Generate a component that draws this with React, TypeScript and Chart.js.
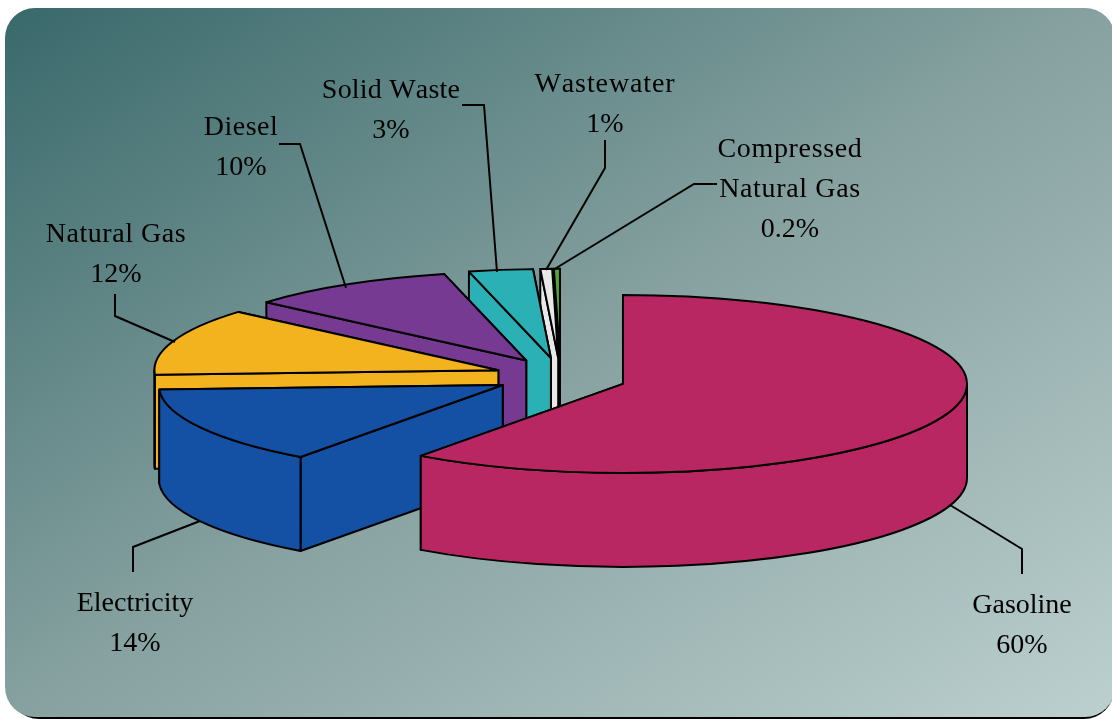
import React, { useEffect, useRef } from "react";
import { Chart, registerables } from "chart.js";

Chart.register(...registerables);

const categories = ["Gasoline", "Electricity", "Natural Gas", "Diesel", "Solid Waste", "Wastewater", "Compressed Natural Gas"];
const shares = [60, 14.17, 12.2, 9.8, 3, 0.55, 0.28];
const sliceColors = ["#B92763", "#1450A3", "#F2B31E", "#763A92", "#2BB0B5", "#E8E8E8", "#4FA83A"];

const labelLines = [
  ["Gasoline", "60%"],
  ["Electricity", "14%"],
  ["Natural Gas", "12%"],
  ["Diesel", "10%"],
  ["Solid Waste", "3%"],
  ["Wastewater", "1%"],
  ["Compressed", "Natural Gas", "0.2%"],
];
const labelAnchors = [
  [1022, 613],
  [135, 611],
  [116, 242],
  [241, 135],
  [391, 98],
  [605, 92],
  [790, 157],
];
const labelTracking = [0, 0, 0.55, 0.5, 0.2, 0.9, 0.65];
const leaders = [
  [[950, 505], [1022, 549], [1022, 574]],
  [[200, 521], [133, 547], [133, 572]],
  [[115, 294], [115, 316], [175, 342]],
  [[279, 144], [300, 144], [346, 288]],
  [[462, 105], [484, 105], [497, 272]],
  [[605, 140], [605, 168], [546, 270]],
  [[717, 184], [694, 184], [553, 270]],
];

const W = 1112;
const H = 719;
const RADIUS = 344;
const TILT = 0.2587;
const DEPTH = 94;
const EXPLODE_X = 65.7;
const EXPLODE_Y = 18.4;
const GASOLINE_DROP = 2;
const LINE = 2;
const LINE_GAP = 40;

function roundRect(ctx: CanvasRenderingContext2D, x: number, y: number, w: number, h: number, r: number) {
  ctx.beginPath();
  ctx.roundRect(x, y, w, h, r);
}

const backdrop = {
  id: "backdrop",
  beforeDraw(chart: any) {
    const ctx = chart.ctx as CanvasRenderingContext2D;
    ctx.save();
    ctx.fillStyle = "#ffffff";
    ctx.fillRect(0, 0, W, H);
    ctx.fillStyle = "#000000";
    roundRect(ctx, 9, 14, W - 7, H - 14, 30);
    ctx.fill();
    const g = ctx.createLinearGradient(0, 0, 656, 1014);
    g.addColorStop(0, "#38686a");
    g.addColorStop(0.5, "#86a1a0");
    g.addColorStop(1, "#bcd0cf");
    ctx.fillStyle = g;
    roundRect(ctx, 5, 8, W - 2, H - 10, 30);
    ctx.fill();
    ctx.restore();
  },
};

const pie3d = {
  id: "pie3d",
  beforeDatasetsDraw(chart: any) {
    const ctx = chart.ctx as CanvasRenderingContext2D;
    const arcs = chart.getDatasetMeta(0).data as any[];
    ctx.save();
    ctx.lineJoin = "round";
    ctx.lineWidth = LINE;
    ctx.strokeStyle = "#000000";
    for (let i = arcs.length - 1; i >= 0; i--) {
      const el = arcs[i];
      const { x, y, startAngle: a0, endAngle: a1, outerRadius: r } = el;
      const mid = (a0 + a1) / 2;
      const cx = x + Math.cos(mid) * EXPLODE_X;
      const cy = y + Math.sin(mid) * EXPLODE_Y + (i === 0 ? GASOLINE_DROP : 0);
      const px = (a: number) => cx + r * Math.cos(a);
      const py = (a: number) => cy + r * Math.sin(a) * TILT;
      ctx.fillStyle = sliceColors[i];

      for (const a of [a1, a0]) {
        ctx.beginPath();
        ctx.moveTo(cx, cy);
        ctx.lineTo(px(a), py(a));
        ctx.lineTo(px(a), py(a) + DEPTH);
        ctx.lineTo(cx, cy + DEPTH);
        ctx.closePath();
        ctx.fill();
        ctx.stroke();
      }

      const from = Math.max(a0, 0);
      const to = Math.min(a1, Math.PI);
      if (to > from) {
        ctx.beginPath();
        ctx.ellipse(cx, cy, r, r * TILT, 0, from, to);
        ctx.ellipse(cx, cy + DEPTH, r, r * TILT, 0, to, from, true);
        ctx.closePath();
        ctx.fill();
        ctx.stroke();
      }

      ctx.save();
      ctx.translate(cx, cy);
      ctx.scale(1, TILT);
      ctx.translate(-x, -y);
      el.draw(ctx);
      ctx.restore();

      ctx.beginPath();
      ctx.moveTo(cx, cy);
      ctx.ellipse(cx, cy, r, r * TILT, 0, a0, a1);
      ctx.closePath();
      ctx.stroke();
    }
    ctx.restore();
    return false;
  },
};

const annotations = {
  id: "annotations",
  afterDraw(chart: any) {
    const ctx = chart.ctx as CanvasRenderingContext2D;
    ctx.save();
    ctx.strokeStyle = "#000000";
    ctx.lineWidth = LINE;
    leaders.forEach((pts) => {
      ctx.beginPath();
      pts.forEach(([px, py], k) => (k ? ctx.lineTo(px, py) : ctx.moveTo(px, py)));
      ctx.stroke();
    });
    ctx.fillStyle = "#000000";
    ctx.font = '28px "Liberation Serif"';
    (ctx as any).fontKerning = "none";
    ctx.textAlign = "center";
    ctx.textBaseline = "alphabetic";
    labelLines.forEach((lines, i) => {
      lines.forEach((t, k) => {
        const isName = k < lines.length - 1;
        (ctx as any).letterSpacing = `${isName ? labelTracking[i] : 0}px`;
        ctx.fillText(t, labelAnchors[i][0], labelAnchors[i][1] + k * LINE_GAP);
      });
    });
    ctx.restore();
  },
};

export default function App() {
  const ref = useRef<HTMLCanvasElement>(null);
  useEffect(() => {
    const chart = new Chart(ref.current as HTMLCanvasElement, {
      type: "pie",
      data: {
        labels: categories,
        datasets: [{ data: shares, backgroundColor: sliceColors, borderWidth: 0 }],
      },
      options: {
        responsive: false,
        animation: false,
        radius: RADIUS,
        events: [],
        layout: { padding: { left: 9, top: 33.4 } },
        plugins: { legend: { display: false }, tooltip: { enabled: false } },
      } as any,
      plugins: [backdrop, pie3d, annotations],
    });
    return () => chart.destroy();
  }, []);
  return (
    <div style={{ position: "absolute", left: 0, top: 0, width: W, height: H }}>
      <canvas ref={ref} width={W} height={H} style={{ display: "block" }} />
    </div>
  );
}
